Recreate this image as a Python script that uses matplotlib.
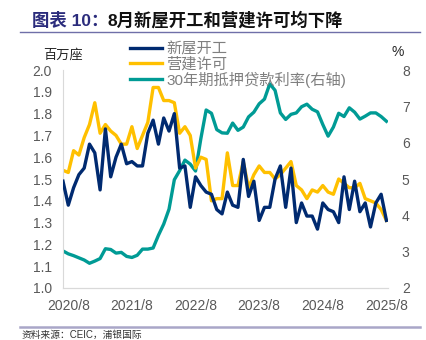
import numpy as np
import pandas as pd
import matplotlib
matplotlib.use('Agg')
import matplotlib.pyplot as plt

plt.rcParams['font.family'] = ['Liberation Sans', 'Noto Sans CJK SC', 'DejaVu Sans']

# monthly data, 2020/7 - 2025/8
months = pd.date_range('2020-07-01', '2025-08-01', freq='MS')

# housing starts, million units (SAAR)
starts = [1.49, 1.38, 1.46, 1.52, 1.55, 1.66,
          1.62, 1.45, 1.73, 1.51, 1.60, 1.66, 1.57, 1.58, 1.56, 1.56, 1.71, 1.77,
          1.66, 1.78, 1.72, 1.80, 1.55, 1.56, 1.37, 1.51, 1.47, 1.44, 1.43, 1.36,
          1.34, 1.44, 1.38, 1.37, 1.59, 1.42, 1.49, 1.31, 1.37, 1.37, 1.50, 1.56,
          1.37, 1.55, 1.30, 1.39, 1.33, 1.33, 1.27, 1.39, 1.36, 1.35, 1.30, 1.51,
          1.36, 1.49, 1.35, 1.39, 1.28, 1.39, 1.43, 1.31]

# building permits, million units (SAAR)
permits = [1.54, 1.53, 1.63, 1.61, 1.69, 1.75,
           1.85, 1.71, 1.75, 1.72, 1.70, 1.66, 1.66, 1.74, 1.64, 1.70, 1.76, 1.92,
           1.92, 1.86, 1.86, 1.85, 1.71, 1.74, 1.70, 1.55, 1.60, 1.59, 1.40, 1.41,
           1.41, 1.62, 1.47, 1.47, 1.58, 1.46, 1.52, 1.56, 1.53, 1.53, 1.50, 1.52,
           1.55, 1.58, 1.47, 1.45, 1.41, 1.45, 1.44, 1.47, 1.44, 1.43, 1.50, 1.48,
           1.46, 1.46, 1.48, 1.41, 1.40, 1.39, 1.36, 1.31]

# 30y mortgage rate, %
mortgage = [3.02, 2.94, 2.89, 2.83, 2.77, 2.68,
            2.74, 2.81, 3.08, 3.06, 2.96, 2.98, 2.87, 2.84, 2.90, 3.07, 3.07, 3.10,
            3.45, 3.76, 4.17, 4.98, 5.23, 5.52, 5.41, 5.22, 6.11, 6.90, 6.81, 6.36,
            6.27, 6.26, 6.54, 6.34, 6.43, 6.71, 6.84, 7.07, 7.20, 7.62, 7.44, 6.82,
            6.64, 6.78, 6.82, 6.99, 7.06, 6.92, 6.85, 6.50, 6.18, 6.43, 6.81, 6.72,
            6.96, 6.84, 6.65, 6.73, 6.82, 6.82, 6.72, 6.59]

labels = ['新屋开工', '营建许可', '30年期抵押贷款利率(右轴)']

navy = '#002A70'
yellow = '#FFC000'
teal = '#009B95'
grey = '#595959'

x = np.arange(len(months))
tick_pos = [i for i, m in enumerate(months) if m.month == 8]
tick_lab = ['%d/%d' % (months[i].year, months[i].month) for i in tick_pos]

fig = plt.figure(figsize=(4.27, 3.40), dpi=100)
ax = fig.add_axes([0.1475, 0.153, 0.7612, 0.641])
ax2 = ax.twinx()

l1, = ax.plot(x, starts, color=navy, lw=2.4, label=labels[0], zorder=3)
l2, = ax.plot(x, permits, color=yellow, lw=2.4, label=labels[1], zorder=2)
l3, = ax2.plot(x, mortgage, color=teal, lw=2.4, label=labels[2])
ax.set_zorder(ax2.get_zorder() + 1)
ax.patch.set_visible(False)

ax.set_xlim(0, 61.3)
ax.set_ylim(1.0, 2.0)
ax.set_yticks(np.arange(1.0, 2.01, 0.1))
ax.set_yticklabels(['%.1f' % v for v in np.arange(1.0, 2.01, 0.1)])
ax2.set_ylim(2, 8)
ax2.set_yticks(range(2, 9))
ax.set_xticks(tick_pos)
ax.set_xticklabels(tick_lab)

for a in (ax, ax2):
    a.tick_params(length=0, labelsize=10, labelcolor=grey)
    for s in ['top', 'right']:
        a.spines[s].set_visible(False)
    a.spines['left'].set_visible(False)
    a.spines['bottom'].set_color('#D9D9D9')
ax.spines['left'].set_visible(True)
ax.spines['left'].set_color('#D9D9D9')
ax.tick_params(axis='y', pad=8)
ax.tick_params(axis='x', pad=8)
ax2.tick_params(axis='y', pad=10)

fig.legend(handles=[l1, l2, l3], loc='upper left',
           bbox_to_anchor=(122 / 427, 1 - 35 / 340), frameon=False,
           fontsize=11, labelcolor='#7F7F7F', handlelength=2.1,
           handletextpad=0.3, labelspacing=0.02, borderpad=0)

fig.text(43 / 427, 1 - 55 / 340, '百万座', fontsize=9.5, color='#262626', va='center')
fig.text(392 / 427, 1 - 52 / 340, '%', fontsize=10, color='#262626', va='center')

# title
fig.text(32 / 427, 1 - 20 / 340, '图表 10：', fontsize=12.5, fontweight='bold',
         color='#2B2C7C', va='center')
fig.text(108 / 427, 1 - 20 / 340, '8月新屋开工和营建许可均下降', fontsize=12.5,
         fontweight='bold', color='#111111', va='center')
fig.add_artist(plt.Line2D([20 / 427, 420 / 427], [1 - 32 / 340, 1 - 32 / 340],
                          color='#6F6FA8', lw=1.0))
fig.add_artist(plt.Line2D([20 / 427, 420 / 427], [1 - 327 / 340, 1 - 327 / 340],
                          color='#A9A6C8', lw=1.8))
fig.text(22 / 427, 1 - 339.5 / 340, '资料来源：CEIC，浦银国际', fontsize=7,
         color='#333333', va='bottom')

fig.savefig('out.png', dpi=100)
